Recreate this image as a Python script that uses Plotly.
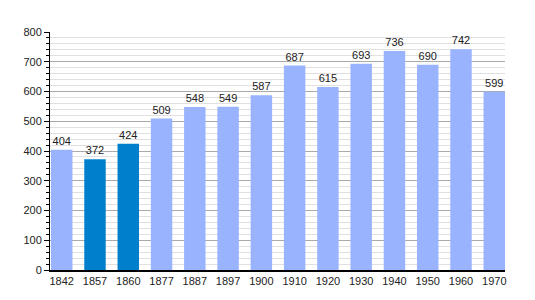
import plotly.graph_objects as go

years = ["1842", "1857", "1860", "1877", "1887", "1897", "1900", "1910", "1920", "1930", "1940", "1950", "1960", "1970"]
population = [404, 372, 424, 509, 548, 549, 587, 687, 615, 693, 736, 690, 742, 599]
highlight = [False, True, True, False, False, False, False, False, False, False, False, False, False, False]

light = "#99b3ff"
dark = "#0080cc"
colors = [dark if h else light for h in highlight]

fig = go.Figure(go.Bar(
    x=years, y=population, marker_color=colors, marker_line_width=0,
    text=[str(v) for v in population], textposition="outside",
    textfont=dict(size=11, color="#222"), cliponaxis=False,
))
fig.update_layout(
    width=535, height=300, margin=dict(l=42, r=38, t=24, b=38),
    plot_bgcolor="white", paper_bgcolor="white",
    font=dict(family="Liberation Sans, Arial", size=11, color="#222"),
    bargap=0.355, showlegend=False,
)
fig.update_xaxes(type="category", range=[-0.3525, 13.3225], showline=True, linecolor="black", linewidth=1.5,
                 ticks="", showgrid=False, tickfont=dict(size=11))
fig.update_yaxes(range=[0, 800], dtick=100, showline=True, linecolor="black", linewidth=1,
                 ticks="outside", ticklen=5, tickcolor="black",
                 gridcolor="#aaaaaa", gridwidth=1, zeroline=False,
                 minor=dict(dtick=20, showgrid=True, gridcolor="#e0e0e0", ticks="outside", ticklen=3, tickcolor="black"),
                 tickfont=dict(size=11))
fig.write_html("out.html")
